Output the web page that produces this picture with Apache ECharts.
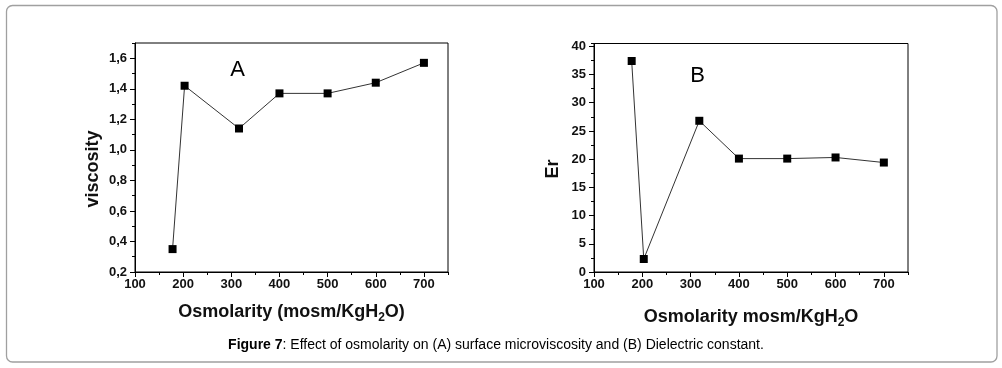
<!DOCTYPE html>
<html>
<head>
<meta charset="utf-8">
<script src="https://cdn.jsdelivr.net/npm/echarts@6/dist/echarts.min.js"></script>
<style>
html,body{margin:0;padding:0;background:#fff;}
#chart{width:1002px;height:368px;}
</style>
</head>
<body>
<div id="chart"></div>
<script>
// ---- data ----
const osmolarityA = [178, 203, 316, 400, 500, 600, 700];
const viscosity = [0.35, 1.42, 1.14, 1.37, 1.37, 1.44, 1.57];
const osmolarityB = [178, 203, 318, 400, 500, 600, 700];
const dielectric = [37.4, 2.3, 26.8, 20.1, 20.1, 20.3, 19.4];
const xTickRange = [100, 750];
const yRangeA = [0.2, 1.7];
const yRangeB = [0, 40.5];
const caption = 'Figure 7';
const captionRest = ': Effect of osmolarity on (A) surface microviscosity and (B) Dielectric constant.';

const FONT = 'Liberation Sans, Arial, sans-serif';
const TXT = '#111';

function majorX(grid, nameText, gap) {
  return {
    gridIndex: grid, type: 'value', position: 'bottom',
    min: xTickRange[0], max: xTickRange[1], interval: 100,
    axisLine: {show: true, lineStyle: {color: '#000', width: 1}},
    axisTick: {show: true, length: 5, lineStyle: {color: '#000'}},
    axisLabel: {show: true, showMaxLabel: false, margin: 6, fontSize: 13, fontWeight: 'bold', fontFamily: FONT, color: TXT},
    splitLine: {show: false},
    name: nameText, nameLocation: 'middle', nameGap: gap,
    nameTextStyle: {
      fontFamily: FONT, fontSize: 18, fontWeight: 'bold', color: TXT,
      rich: {
        t: {fontFamily: FONT, fontSize: 18, fontWeight: 'bold', color: TXT, lineHeight: 23},
        s: {fontFamily: FONT, fontSize: 12, fontWeight: 'bold', color: TXT, lineHeight: 12, verticalAlign: 'bottom'}
      }
    }
  };
}
function minorX(grid) {
  return {
    gridIndex: grid, type: 'value', position: 'bottom',
    min: xTickRange[0], max: xTickRange[1], interval: 50,
    axisLine: {show: false},
    axisTick: {show: true, length: 3, lineStyle: {color: '#000'}},
    axisLabel: {show: false}, splitLine: {show: false}
  };
}
function majorY(grid, range, interval, fmt) {
  return {
    gridIndex: grid, type: 'value', position: 'left',
    min: range[0], max: range[1], interval: interval,
    axisLine: {show: true, lineStyle: {color: '#000', width: 1}},
    axisTick: {show: true, length: 5, lineStyle: {color: '#000'}},
    axisLabel: {show: true, showMaxLabel: false, margin: 8, fontSize: 13, fontWeight: 'bold', fontFamily: FONT, color: TXT, formatter: fmt},
    splitLine: {show: false}
  };
}
function minorY(grid, range, interval) {
  return {
    gridIndex: grid, type: 'value', position: 'left',
    min: range[0], max: range[1], interval: interval,
    axisLine: {show: false},
    axisTick: {show: true, length: 3, lineStyle: {color: '#000'}},
    axisLabel: {show: false}, splitLine: {show: false}
  };
}

const chart = echarts.init(document.getElementById('chart'), null, {renderer: 'canvas'});
const option = {
  backgroundColor: '#fff',
  animation: false,
  grid: [
    {left: 135, top: 43, width: 313, height: 229, show: true, borderColor: '#000', borderWidth: 1, backgroundColor: 'transparent'},
    {left: 594, top: 43.5, width: 314, height: 228.5, show: true, borderColor: '#000', borderWidth: 1, backgroundColor: 'transparent'}
  ],
  xAxis: [
    majorX(0, '{t|Osmolarity (mosm/KgH}{s|2}{t|O)}', 29),
    minorX(0),
    majorX(1, '{t|Osmolarity mosm/KgH}{s|2}{t|O}', 34),
    minorX(1)
  ],
  yAxis: [
    majorY(0, yRangeA, 0.2, v => v.toFixed(1).replace('.', ',')),
    minorY(0, yRangeA, 0.1),
    majorY(1, yRangeB, 5, v => String(Math.round(v))),
    minorY(1, yRangeB, 2.5)
  ],
  series: [
    {
      type: 'line', xAxisIndex: 0, yAxisIndex: 0,
      data: osmolarityA.map((x, i) => [x, viscosity[i]]),
      symbol: 'rect', symbolSize: 8,
      itemStyle: {color: '#000'},
      lineStyle: {color: '#333', width: 1}
    },
    {
      type: 'line', xAxisIndex: 2, yAxisIndex: 2,
      data: osmolarityB.map((x, i) => [x, dielectric[i]]),
      symbol: 'rect', symbolSize: 8,
      itemStyle: {color: '#000'},
      lineStyle: {color: '#333', width: 1}
    }
  ],
  graphic: [
    {type: 'rect', shape: {x: 6.5, y: 5.5, width: 990.5, height: 356.5, r: 6}, style: {fill: 'none', stroke: '#a0a0a0', lineWidth: 1.3}, z: 0},
    {type: 'text', x: 93, y: 169, rotation: Math.PI / 2,
      style: {text: 'viscosity', font: 'bold 18px ' + FONT, fill: TXT, textAlign: 'center', align: 'center', textVerticalAlign: 'middle', verticalAlign: 'middle'}},
    {type: 'text', x: 553, y: 169, rotation: Math.PI / 2,
      style: {text: 'Er', font: 'bold 18px ' + FONT, fill: TXT, textAlign: 'center', align: 'center', textVerticalAlign: 'middle', verticalAlign: 'middle'}},
    {type: 'text', x: 237.5, y: 70,
      style: {text: 'A', font: '22px ' + FONT, fill: '#000', textAlign: 'center', align: 'center', textVerticalAlign: 'middle', verticalAlign: 'middle'}},
    {type: 'text', x: 697.5, y: 75.5,
      style: {text: 'B', font: '22px ' + FONT, fill: '#000', textAlign: 'center', align: 'center', textVerticalAlign: 'middle', verticalAlign: 'middle'}},
    {type: 'text', x: 496, y: 345,
      style: {
        text: '{b|' + caption + '}{n|' + captionRest + '}',
        textAlign: 'center', align: 'center', textVerticalAlign: 'middle', verticalAlign: 'middle',
        rich: {
          b: {fontFamily: FONT, fontSize: 14, fontWeight: 'bold', fill: '#000', color: '#000'},
          n: {fontFamily: FONT, fontSize: 14, fill: '#000', color: '#000'}
        }
      }}
  ]
};
chart.setOption(option);
</script>
</body>
</html>
